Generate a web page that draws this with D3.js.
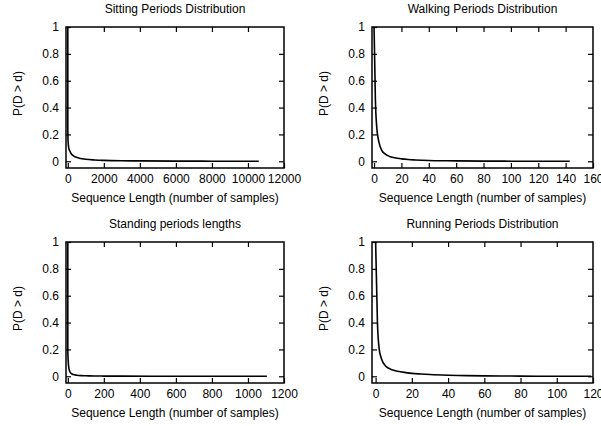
<!DOCTYPE html>
<html>
<head>
<meta charset="utf-8">
<script src="https://cdn.jsdelivr.net/npm/d3@7"></script>
<style>
  body { margin: 0; background: #fff; }
  svg { display: block; font-family: "Liberation Sans", Arial, Helvetica, sans-serif; }
  .tick text { font-size: 12px; fill: #000; }
  .tick line { stroke: #000; stroke-width: 1.2; }
</style>
</head>
<body>
<svg width="601" height="426"></svg>
<script>
// panel titles and x-axis extents
const TITLES = ["Sitting Periods Distribution", "Walking Periods Distribution",
                "Standing periods lengths", "Running Periods Distribution"];
const X_MIN = [-100, -1.5, -10, -2];
const X_MAX = [12000, 160, 1200, 120];
const X_TICKS = [
  [0, 2000, 4000, 6000, 8000, 10000, 12000],
  [0, 20, 40, 60, 80, 100, 120, 140, 160],
  [0, 200, 400, 600, 800, 1000, 1200],
  [0, 20, 40, 60, 80, 100, 120]
];
const Y_TICKS = [0, 0.2, 0.4, 0.6, 0.8, 1];

// P(D > d)
const sittingD = [0, 0, 5, 10, 20, 40, 70, 100, 150, 200, 300, 400, 600, 800, 1000, 1500, 2000, 3000, 4000, 6000, 8000, 10600];
const sittingP = [1, 0.25, 0.2, 0.17, 0.14, 0.11, 0.09, 0.08, 0.065, 0.055, 0.042, 0.034, 0.025, 0.019, 0.015, 0.01, 0.007, 0.004, 0.003, 0.0015, 0.0008, 0];

const walkingD = [0, 1, 2, 3, 4, 5, 6, 8, 10, 12, 15, 20, 25, 30, 40, 50, 60, 80, 100, 120, 143];
const walkingP = [1, 0.45, 0.25, 0.17, 0.125, 0.095, 0.075, 0.055, 0.042, 0.034, 0.026, 0.018, 0.013, 0.01, 0.006, 0.004, 0.003, 0.0015, 0.0008, 0.0003, 0];

const standingD = [0, 0, 2, 5, 10, 20, 30, 50, 75, 100, 150, 200, 300, 500, 800, 1105];
const standingP = [1, 0.2, 0.12, 0.07, 0.04, 0.02, 0.013, 0.008, 0.005, 0.004, 0.002, 0.0015, 0.001, 0.0005, 0.0002, 0];

const runningD = [0, 1, 2, 3, 4, 5, 6, 8, 10, 12, 15, 20, 25, 30, 40, 50, 60, 70, 80, 100, 119];
const runningP = [1, 0.4, 0.2, 0.14, 0.105, 0.085, 0.07, 0.055, 0.045, 0.038, 0.031, 0.022, 0.017, 0.013, 0.008, 0.005, 0.003, 0.002, 0.0012, 0.0005, 0];

const SERIES = [[sittingD, sittingP], [walkingD, walkingP], [standingD, standingP], [runningD, runningP]];

const PLOT_WS = [218, 221];
const PLOT_H = 141;
const LEFTS = [66, 372];
const TOPS = [27, 242];
const TICK = 5;

const svg = d3.select("svg");

function drawPanel(i) {
  const left = LEFTS[i % 2];
  const PLOT_W = PLOT_WS[i % 2];
  const top = TOPS[Math.floor(i / 2)];

  const x = d3.scaleLinear().domain([X_MIN[i], X_MAX[i]]).range([0, PLOT_W]);
  const y = d3.scaleLinear().domain([-0.05, 1]).range([PLOT_H, 0]);

  const g = svg.append("g").attr("transform", `translate(${left},${top})`);

  // bottom axis with labels, ticks pointing inward
  g.append("g")
    .attr("transform", `translate(0,${PLOT_H})`)
    .call(d3.axisBottom(x).tickValues(X_TICKS[i]).tickSize(-TICK).tickPadding(6).tickFormat(d3.format("d")))
    .call(a => a.select(".domain").remove());

  // mirrored top ticks
  g.append("g")
    .call(d3.axisTop(x).tickValues(X_TICKS[i].filter(v => v > 0 && v < X_MAX[i])).tickSize(-TICK).tickFormat(""))
    .call(a => a.select(".domain").remove());

  g.append("g")
    .call(d3.axisLeft(y).tickValues(Y_TICKS).tickSize(-TICK).tickPadding(7).tickFormat(d3.format("")))
    .call(a => a.select(".domain").remove());

  g.append("g")
    .attr("transform", `translate(${PLOT_W},0)`)
    .call(d3.axisRight(y).tickValues(Y_TICKS.filter(v => v < 1)).tickSize(-TICK).tickFormat(""))
    .call(a => a.select(".domain").remove());

  g.selectAll(".tick text").attr("font-family", null).attr("font-size", null);

  g.append("rect")
    .attr("width", PLOT_W)
    .attr("height", PLOT_H)
    .attr("fill", "none")
    .attr("stroke", "#000")
    .attr("stroke-width", 1.5);

  const [ds, ps] = SERIES[i];
  const line = d3.line()
    .x(j => x(ds[j]))
    .y(j => y(ps[j]))
    .curve(d3.curveMonotoneX);

  g.append("path")
    .attr("d", line(d3.range(ds.length)))
    .attr("fill", "none")
    .attr("stroke", "#000")
    .attr("stroke-width", 1.6);

  g.append("text")
    .attr("x", PLOT_W / 2)
    .attr("y", -14)
    .attr("text-anchor", "middle")
    .attr("font-size", 12)
    .text(TITLES[i]);

  g.append("text")
    .attr("x", PLOT_W / 2)
    .attr("y", PLOT_H + 34)
    .attr("text-anchor", "middle")
    .attr("font-size", 12)
    .text("Sequence Length (number of samples)");

  g.append("text")
    .attr("transform", `translate(-44,${PLOT_H / 2 - 4}) rotate(-90)`)
    .attr("text-anchor", "middle")
    .attr("font-size", 12)
    .text("P(D > d)");
}

d3.range(4).forEach(drawPanel);
</script>
</body>
</html>
